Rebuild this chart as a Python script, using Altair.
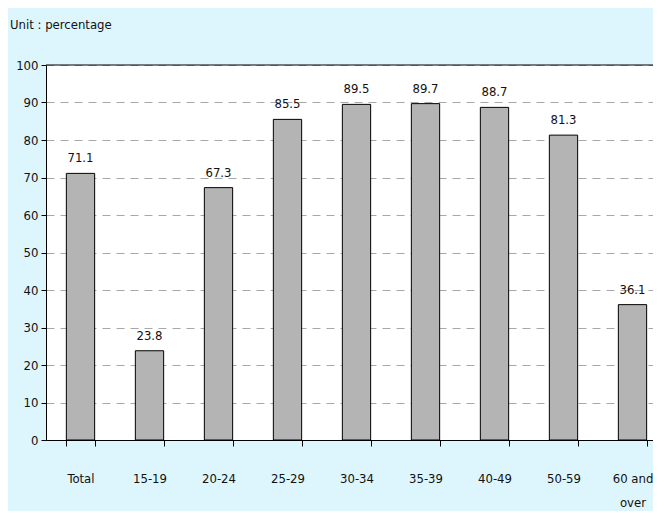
import altair as alt
import pandas as pd

categories = ["Total", "15-19", "20-24", "25-29", "30-34", "35-39", "40-49", "50-59", "60 and over"]
values = [71.1, 23.8, 67.3, 85.5, 89.5, 89.7, 88.7, 81.3, 36.1]
y_ticks = [0, 10, 20, 30, 40, 50, 60, 70, 80, 90, 100]
y_max = [100]

df = pd.DataFrame({"group": categories, "value": values})
df["label"] = df["value"].map(lambda v: f"{v:.1f}")
top_df = pd.DataFrame({"value": y_max})

FONT = "DejaVu Sans Condensed"

x = alt.X("group:N", sort=categories, title=None,
          scale=alt.Scale(paddingInner=0.59, paddingOuter=0.295, range=[0, 621]),
          axis=alt.Axis(labelAngle=0, labelPadding=32, labelFontSize=13, labelColor="#111",
                        labelFont=FONT, tickBand="extent", tickSize=6, tickColor="#000",
                        domainColor="#000", labelLineHeight=24, labelBaseline="middle",
                        labelExpr="datum.label == '60 and over' ? ['60 and', 'over'] : datum.label"))
y = alt.Y("value:Q", title=None,
          scale=alt.Scale(domain=[0, 100], nice=False),
          axis=alt.Axis(values=y_ticks, labelFontSize=13, labelColor="#111", labelFont=FONT,
                        tickSize=5, tickColor="#000", domainColor="#000", labelPadding=3,
                        grid=True, gridColor="#a8a8a8", gridDash=[8, 6], gridWidth=1))

base = alt.Chart(df).encode(x=x, y=y)
bars = base.mark_bar(fill="#b4b4b4", stroke="#000", strokeWidth=1)
labels = base.mark_text(dy=-15, fontSize=13, font=FONT, color="#111").encode(text="label:N")
top_rule = alt.Chart(top_df).mark_rule(color="#000", strokeWidth=1).encode(y=y)

chart = alt.layer(bars, labels, top_rule).properties(
    width=607, height=375,
    title=alt.TitleParams("Unit : percentage", anchor="start", frame="group", align="left",
                          dx=-36, offset=27,
                          fontSize=13, font=FONT, fontWeight="normal", color="#111"),
    autosize=alt.AutoSizeParams(type="none"),
    padding={"left": 38, "top": 57, "right": 0, "bottom": 71},
    background="#ddf6fe",
).configure_view(fill="white", strokeWidth=0)

chart.save("out.html", embed_options={"renderer": "svg", "actions": False})
